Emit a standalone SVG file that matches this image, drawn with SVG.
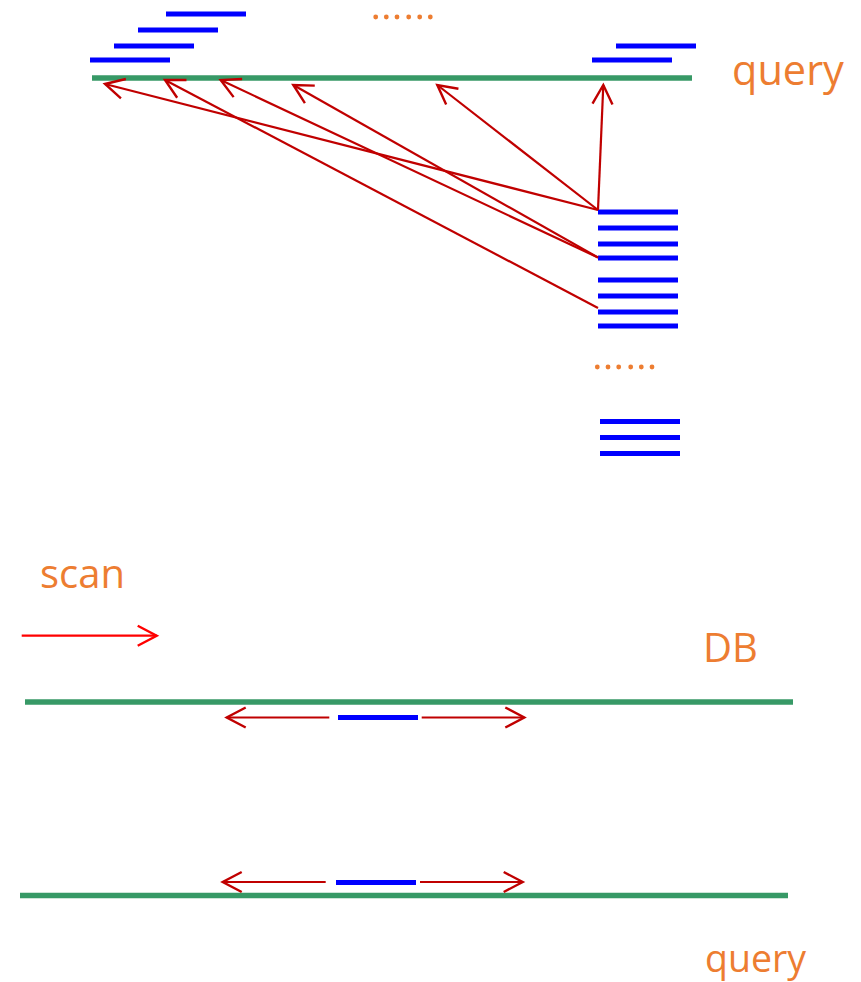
<svg xmlns="http://www.w3.org/2000/svg" width="861" height="982" viewBox="0 0 861 982">
<style>
.g{stroke:#379966;stroke-width:5.5;fill:none}
.b{stroke:#0000FF;stroke-width:5;fill:none}
.r{stroke:#C00000;stroke-width:2.2;fill:none}
.rs{stroke:#FF0000;stroke-width:2.2;fill:none}
.t{font-family:"Open Sans","Noto Sans",sans-serif;fill:#ED7D31}
.d{fill:#ED7D31}
</style>
<defs>
<marker id="ah" markerUnits="userSpaceOnUse" orient="auto" refX="0" refY="0" markerWidth="30" markerHeight="30" overflow="visible">
<path d="M-19,-10 L0,0 L-19,10" fill="none" stroke="#C00000" stroke-width="2.4"/>
</marker>
<marker id="ahs" markerUnits="userSpaceOnUse" orient="auto" refX="0" refY="0" markerWidth="30" markerHeight="30" overflow="visible">
<path d="M-19,-10 L0,0 L-19,10" fill="none" stroke="#FF0000" stroke-width="2.4"/>
</marker>
</defs>

<g id="top-query">
<line class="g" x1="92" y1="78" x2="692" y2="78"/>
<text class="t" x="732" y="85" font-size="41.5">query</text>
</g>

<g id="query-segments">
<line class="b" x1="166" y1="14" x2="246" y2="14"/>
<line class="b" x1="138" y1="30" x2="218" y2="30"/>
<line class="b" x1="114" y1="46" x2="194" y2="46"/>
<line class="b" x1="90" y1="60" x2="170" y2="60"/>
<line class="b" x1="616" y1="46" x2="696" y2="46"/>
<line class="b" x1="592" y1="60" x2="672" y2="60"/>
<circle class="d" cx="375.7" cy="17" r="2.4"/>
<circle class="d" cx="386.3" cy="17" r="2.4"/>
<circle class="d" cx="397" cy="17" r="2.4"/>
<circle class="d" cx="408.7" cy="17" r="2.4"/>
<circle class="d" cx="419.7" cy="17" r="2.4"/>
<circle class="d" cx="430.3" cy="17" r="2.4"/>
</g>

<g id="db-segments">
<line class="b" x1="598" y1="212" x2="678" y2="212"/>
<line class="b" x1="598" y1="228" x2="678" y2="228"/>
<line class="b" x1="598" y1="244" x2="678" y2="244"/>
<line class="b" x1="598" y1="258" x2="678" y2="258"/>
<line class="b" x1="598" y1="280" x2="678" y2="280"/>
<line class="b" x1="598" y1="296" x2="678" y2="296"/>
<line class="b" x1="598" y1="312" x2="678" y2="312"/>
<line class="b" x1="598" y1="326" x2="678" y2="326"/>
<circle class="d" cx="597.3" cy="367" r="2.4"/>
<circle class="d" cx="608" cy="367" r="2.4"/>
<circle class="d" cx="618.7" cy="367" r="2.4"/>
<circle class="d" cx="630.7" cy="367" r="2.4"/>
<circle class="d" cx="641.3" cy="367" r="2.4"/>
<circle class="d" cx="652" cy="367" r="2.4"/>
<line class="b" x1="600" y1="421.5" x2="680" y2="421.5"/>
<line class="b" x1="600" y1="437.5" x2="680" y2="437.5"/>
<line class="b" x1="600" y1="453.5" x2="680" y2="453.5"/>
</g>

<g id="scan">
<text class="t" x="40" y="588" font-size="40">scan</text>
</g>

<g id="db">
<text class="t" x="703" y="662" font-size="40">DB</text>
<line class="g" x1="25" y1="702" x2="793" y2="702"/>
<line class="b" x1="338" y1="717.5" x2="418" y2="717.5"/>
</g>

<g id="bottom-query">
<line class="g" x1="20" y1="895.5" x2="788" y2="895.5"/>
<line class="b" x1="336" y1="882.5" x2="416" y2="882.5"/>
<text class="t" x="705" y="972" font-size="37.5">query</text>
</g>

<g id="connectors">
<line class="r" x1="598" y1="210" x2="603.3" y2="85" marker-end="url(#ah)"/>
<line class="r" x1="598" y1="210" x2="437.3" y2="85" marker-end="url(#ah)"/>
<line class="r" x1="598" y1="210" x2="105" y2="84" marker-end="url(#ah)"/>
<line class="r" x1="598" y1="257.5" x2="293.3" y2="85" marker-end="url(#ah)"/>
<line class="r" x1="598" y1="257.5" x2="220.7" y2="80" marker-end="url(#ah)"/>
<line class="r" x1="598" y1="308" x2="165" y2="80" marker-end="url(#ah)"/>
<line class="rs" x1="21.7" y1="635.7" x2="156.7" y2="635.7" marker-end="url(#ahs)"/>
<line class="r" x1="329.3" y1="717.5" x2="226.7" y2="717.5" marker-end="url(#ah)"/>
<line class="r" x1="421.7" y1="717.5" x2="524.3" y2="717.5" marker-end="url(#ah)"/>
<line class="r" x1="325.7" y1="882" x2="222.7" y2="882" marker-end="url(#ah)"/>
<line class="r" x1="420" y1="882" x2="522.7" y2="882" marker-end="url(#ah)"/>
</g>
</svg>
